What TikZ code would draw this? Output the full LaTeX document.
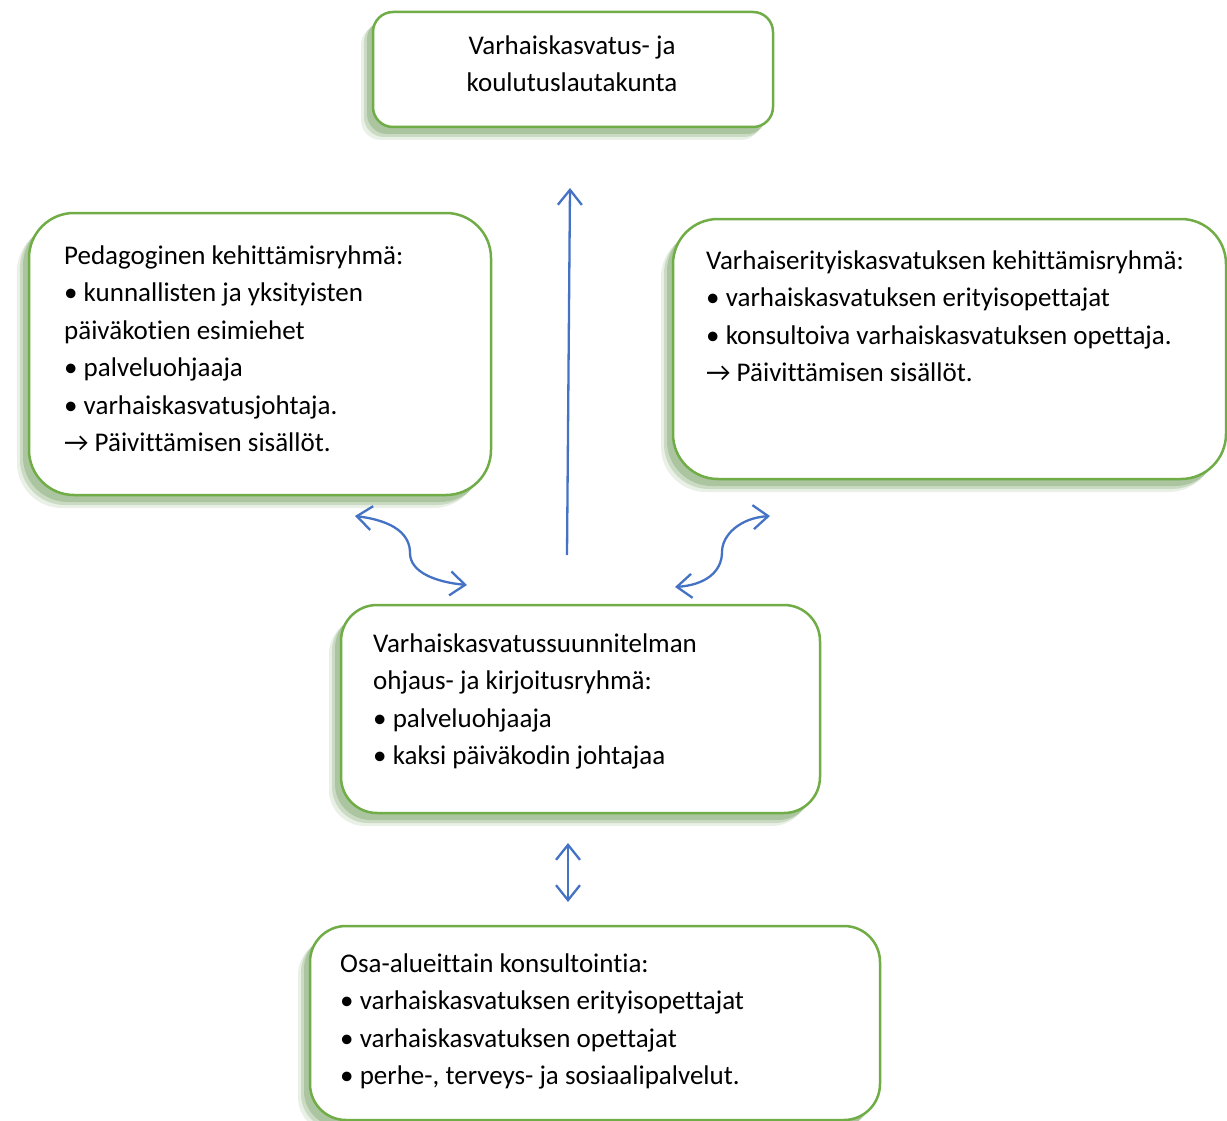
\documentclass[tikz,border=0pt]{standalone}
\usepackage{fontspec}
\setmainfont{Carlito}[Ligatures=NoCommon]
\usetikzlibrary{arrows.meta,shadows}
\definecolor{grn}{HTML}{70AD47}
\definecolor{blu}{HTML}{4472C4}
\definecolor{shd}{RGB}{110,155,90}
\begin{document}
\begin{tikzpicture}[x=1pt,y=-1pt,
  box/.style={draw=grn, line width=2.5pt, fill=white, inner sep=0pt,
    drop shadow={shadow xshift=-12pt, shadow yshift=-13pt, fill=shd, opacity=0.15},
    drop shadow={shadow xshift=-9pt, shadow yshift=-10pt, fill=shd, opacity=0.25},
    drop shadow={shadow xshift=-6pt, shadow yshift=-7pt, fill=shd, opacity=0.35}},
  txt/.style={inner sep=0pt, align=left, anchor=north west, font=\fontsize{27}{37.5}\selectfont},
  conn/.style={draw=blu, line width=2.3pt},
  tip/.tip={Straight Barb[length=15pt,width=24pt]}]
\useasboundingbox (0,0) rectangle (1227,1121);

\node[box, rounded corners=20pt, minimum width=400pt, minimum height=115pt] (lauta) at (573,69.5) {};
\node[box, rounded corners=45pt, minimum width=462pt, minimum height=282pt] (peda) at (260,354) {};
\node[box, rounded corners=45pt, minimum width=553pt, minimum height=260pt] (veo) at (949.5,349) {};
\node[box, rounded corners=36pt, minimum width=479pt, minimum height=208pt] (vasu) at (580.5,709) {};
\node[box, rounded corners=36pt, minimum width=570pt, minimum height=194pt] (osa) at (595,1023) {};

\node[txt, align=center, anchor=north] (tlauta) at (572,27.75) {\strut Varhaiskasvatus- ja\\koulutuslautakunta};
\node[txt] (tpeda) at (64,237.75) {\strut Pedagoginen kehittämisryhmä:\\• kunnallisten ja yksityisten\\päiväkotien esimiehet\\• palveluohjaaja\\• varhaiskasvatusjohtaja.\\→ Päivittämisen sisällöt.};
\node[txt] (tveo) at (706,242.75) {\strut Varhaiserityiskasvatuksen kehittämisryhmä:\\• varhaiskasvatuksen erityisopettajat\\• konsultoiva varhaiskasvatuksen opettaja.\\→ Päivittämisen sisällöt.};
\node[txt] (tvasu) at (373,625.75) {\strut Varhaiskasvatussuunnitelman\\ohjaus- ja kirjoitusryhmä:\\• palveluohjaaja\\• kaksi päiväkodin johtajaa};
\node[txt] (tosa) at (340,945.75) {\strut Osa-alueittain konsultointia:\\• varhaiskasvatuksen erityisopettajat\\• varhaiskasvatuksen opettajat\\• perhe-, terveys- ja sosiaalipalvelut.};

\coordinate (vb) at (567,555);
\coordinate (vt) at (570,188);
\coordinate (la) at (355,516);
\coordinate (lb) at (467,585);
\coordinate (ra) at (770,516);
\coordinate (rb) at (675,587);
\coordinate (ba) at (568,843);
\coordinate (bb) at (568,902);

\draw[conn, -tip] (vb) -- (vt);
\draw[conn, tip-tip] (la) .. controls (395,521) and (410,535) .. (410,553) .. controls (410,572) and (435,582) .. (lb);
\draw[conn, tip-tip] (ra) .. controls (740,518) and (722,535) .. (722,552) .. controls (722,572) and (705,585) .. (rb);
\draw[conn, tip-tip] (ba) -- (bb);
\end{tikzpicture}
\end{document}
